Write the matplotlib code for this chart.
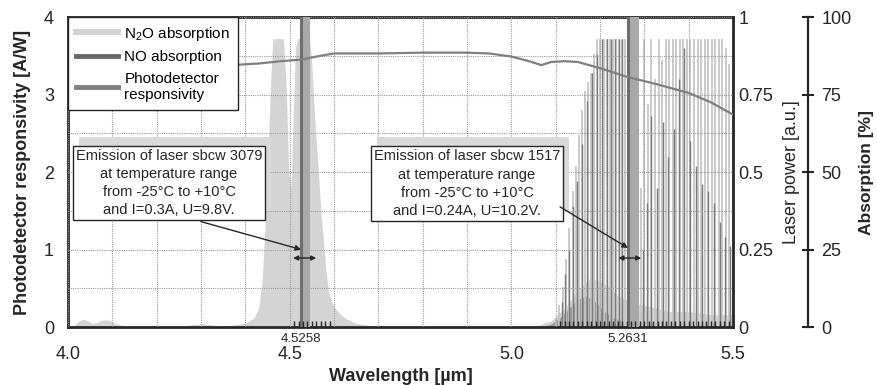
import numpy as np
import matplotlib
matplotlib.use('Agg')
import matplotlib.pyplot as plt
from matplotlib.lines import Line2D
from matplotlib.patches import Rectangle

plt.rcParams['font.family'] = ['Liberation Sans Narrow', 'Liberation Sans', 'DejaVu Sans']
plt.rcParams['mathtext.default'] = 'regular'
BOLD = ['Liberation Sans', 'DejaVu Sans']

# photodetector responsivity [A/W]
resp_wl = [4.00, 4.10, 4.20, 4.30, 4.37, 4.43, 4.48, 4.525, 4.57, 4.60, 4.70, 4.80, 4.90,
           4.95, 5.00, 5.04, 5.068, 5.09, 5.12, 5.15, 5.20, 5.26, 5.33, 5.40, 5.45, 5.50]
resp_val = [3.30, 3.33, 3.35, 3.37, 3.38, 3.40, 3.43, 3.45, 3.50, 3.53, 3.53, 3.54, 3.54,
            3.53, 3.49, 3.43, 3.38, 3.42, 3.43, 3.42, 3.34, 3.23, 3.13, 3.02, 2.90, 2.74]

# N2O absorption [%], 4.5 um band envelope
n2o_wl = [4.00, 4.015, 4.025, 4.035, 4.045, 4.055, 4.065, 4.075, 4.085, 4.095, 4.105, 4.115,
          4.125, 4.20, 4.26, 4.28, 4.30, 4.32, 4.34, 4.36, 4.40, 4.42, 4.43, 4.438, 4.445,
          4.452, 4.458, 4.462, 4.47, 4.48, 4.486, 4.492, 4.498, 4.503, 4.508, 4.513, 4.518,
          4.53, 4.545, 4.55, 4.555, 4.56, 4.565, 4.57, 4.576, 4.582, 4.588, 4.595, 4.603,
          4.615, 4.63, 4.65, 4.68, 4.72]
n2o_abs = [0, 0.5, 2.0, 2.5, 2.0, 1.2, 1.5, 2.2, 2.3, 2.0, 1.3, 0.8,
           0.3, 0.1, 0.3, 0.8, 1.0, 0.8, 0.3, 0.4, 1.2, 3.0, 6, 15, 34,
           60, 82, 93, 93, 93, 93, 78, 50, 45, 68, 90, 93,
           93, 93, 85, 71, 60, 50, 38, 28, 18, 11, 8, 6,
           4, 2.5, 1.2, 0.5, 0]

# N2O absorption, 5.3 um region: continuum and lines
n2o_base_wl = [5.03, 5.06, 5.09, 5.12, 5.15, 5.18, 5.21, 5.24, 5.27, 5.30, 5.33, 5.36, 5.40, 5.45, 5.50]
n2o_base_abs = [0, 0.5, 2, 6, 12, 16, 14, 10, 8, 7, 6, 5, 5, 4, 4]
n2o_line_wl = [5.100, 5.108, 5.116, 5.124, 5.131, 5.138, 5.145, 5.152, 5.159, 5.166, 5.173,
               5.180, 5.187, 5.194, 5.201, 5.208, 5.215, 5.222, 5.229, 5.236, 5.243, 5.250,
               5.257, 5.266, 5.275, 5.292, 5.300, 5.308, 5.316, 5.324, 5.332, 5.340, 5.348,
               5.356, 5.364, 5.372, 5.380, 5.388, 5.396, 5.404, 5.412, 5.420, 5.428, 5.436,
               5.444, 5.452, 5.460, 5.468, 5.476, 5.484, 5.492, 5.499]
n2o_line_abs = [3, 7, 13, 22, 32, 44, 52, 62, 70, 76, 79,
                82, 88, 93, 93, 93, 93, 93, 93, 93, 93, 93,
                93, 60, 30, 45, 93, 72, 93, 80, 93, 86, 93,
                93, 93, 93, 93, 93, 93, 93, 93, 93, 93, 93,
                93, 93, 93, 93, 93, 90, 85, 80]

# NO absorption [%]
no_base_wl = [5.07, 5.09, 5.11, 5.13, 5.15, 5.17, 5.19, 5.21, 5.23, 5.25]
no_base_abs = [0, 1, 3, 6, 9, 10, 8, 5, 3, 2]
no_line_wl = [5.114, 5.122, 5.131, 5.139, 5.149, 5.160, 5.171, 5.183, 5.194, 5.205, 5.215,
              5.224, 5.233, 5.242, 5.250, 5.296, 5.305, 5.315, 5.329, 5.342, 5.353, 5.366,
              5.378, 5.390, 5.404, 5.417, 5.430, 5.443, 5.457, 5.470, 5.482, 5.494]
no_line_abs = [8, 17, 25, 39, 47, 59, 73, 82, 88, 93, 93,
               93, 93, 93, 93, 25, 40, 68, 45, 66, 55, 64,
               80, 90, 60, 52, 46, 44, 40, 34, 29, 26]

# laser emission lines [um] and tuning range
laser_wl = [4.5258, 5.2631]
laser_width = [0.019, 0.024]
laser_labels = ['4.5258', '5.2631']
laser_text = ['Emission of laser sbcw 3079\nat temperature range\nfrom -25\u00b0C to +10\u00b0C\nand I=0.3A, U=9.8V.',
              'Emission of laser sbcw 1517\nat temperature range\nfrom -25\u00b0C to +10\u00b0C\nand I=0.24A, U=10.2V.']

DARK = '#262626'

fig = plt.figure(figsize=(8.77, 3.85), dpi=100)
ax = fig.add_axes([0.0775, 0.1506, 0.7583, 0.8052])
ax_abs = ax.twinx()
ax_pw = ax.twinx()
ax_abs.set_zorder(0)
ax_pw.set_zorder(1)
ax.set_zorder(2)
ax.patch.set_visible(False)
ax_pw.patch.set_visible(False)
ax_abs.patch.set_visible(True)
ax_abs.patch.set_facecolor('white')

# spectra
ax_abs.fill_between(n2o_wl, n2o_abs, color='#d4d4d4', lw=0)
ax_abs.fill_between(n2o_base_wl, n2o_base_abs, color='#d4d4d4', lw=0)
ax_abs.vlines(n2o_line_wl, 0, n2o_line_abs, color='#c6c6c6', lw=1.3)
ax_abs.fill_between(no_base_wl, no_base_abs, color='#9c9c9c', lw=0)
ax_abs.vlines(no_line_wl, 0, no_line_abs, color='#7a7a7a', lw=1.0)
ax_abs.set_ylim(0, 100)
ax_abs.set_yticks([0, 25, 50, 75, 100])
for s in ['left', 'top', 'bottom']:
    ax_abs.spines[s].set_visible(False)
ax_abs.spines['right'].set_position(('axes', 1.113))
ax_abs.spines['right'].set_linewidth(1.6)
ax_abs.spines['right'].set_color(DARK)
ax_abs.tick_params(axis='y', direction='inout', length=9, width=1.5, color=DARK,
                   pad=5, labelsize=13, labelcolor=DARK)
ax_abs.set_ylabel('Absorption [%]', fontsize=12.5, fontweight='bold', family=BOLD,
                  color=DARK, labelpad=5)

# laser power axis
ax_pw.set_ylim(0, 1)
ax_pw.set_yticks([0, 0.25, 0.5, 0.75, 1])
ax_pw.set_yticklabels(['0', '0.25', '0.5', '0.75', '1'])
ax_pw.tick_params(axis='y', length=0, pad=4, labelsize=13, labelcolor=DARK)
for s in ax_pw.spines.values():
    s.set_visible(False)
ax_pw.set_ylabel('Laser power [a.u.]', fontsize=13, family=BOLD, color=DARK, labelpad=7)

# laser emission bars
for wl, w in zip(laser_wl, laser_width):
    ax.axvspan(wl, wl + w, color='#a9a9a9', lw=0, zorder=3)
    ax.axvline(wl, color='#6e6e6e', lw=2.2, zorder=3)

# responsivity
ax.plot(resp_wl, resp_val, color='#7f7f7f', lw=1.6, zorder=4)

ax.set_xlim(4.0, 5.5)
ax.set_ylim(0, 4)
ax.set_xticks([4.0, 4.5, 5.0, 5.5])
ax.set_xticklabels(['4.0', '4.5', '5.0', '5.5'])
ax.set_xticks(np.round(np.arange(4.1, 5.45, 0.1), 2), minor=True)
ax.set_yticks([0, 1, 2, 3, 4])
ax.set_yticks([0.5, 1.5, 2.5, 3.5], minor=True)
ax.tick_params(axis='x', which='both', length=0, pad=13.5, labelsize=13, labelcolor=DARK)
ax.tick_params(axis='y', which='both', length=0, pad=10, labelsize=13, labelcolor=DARK)
ax.set_axisbelow(False)
ax.grid(which='both', color='#9a9a9a', ls=(0, (1, 1)), lw=0.8)
for s in ax.spines.values():
    s.set_linewidth(2)
    s.set_color(DARK)
ax.set_xlabel('Wavelength [\u00b5m]', fontsize=13, fontweight='bold', family=BOLD,
              color=DARK, labelpad=4)
ax.set_ylabel('Photodetector responsivity [A/W]', fontsize=13, fontweight='bold',
              family=BOLD, color=DARK, labelpad=9)

# small ticks at laser positions
small_ticks = [4.51, 4.52, 4.53, 4.54, 4.55, 4.56, 4.57, 4.58, 4.59,
               5.11, 5.12, 5.13, 5.14, 5.15, 5.16, 5.17, 5.18, 5.19, 5.20, 5.21, 5.22,
               5.23, 5.24, 5.25, 5.26, 5.27, 5.28, 5.29, 5.30, 5.31, 5.32, 5.33, 5.34,
               5.35, 5.36, 5.37, 5.38, 5.39, 5.40, 5.41, 5.42, 5.43, 5.44, 5.45, 5.46,
               5.47, 5.48, 5.49]
ax.plot(small_ticks, [0] * len(small_ticks), transform=ax.get_xaxis_transform(),
        ls='none', marker=2, ms=4, mew=1, color=DARK, clip_on=False, zorder=5)
for wl, lab in zip(laser_wl, laser_labels):
    ax.text(wl, -0.018, lab, transform=ax.get_xaxis_transform(), ha='center', va='top',
            fontsize=9.5, color=DARK)

# annotation boxes
box_xy = [(4.228, 1.86), (4.90, 1.85)]
arrow_from = [(4.30, 1.36), (5.11, 1.55)]
arrow_to = [(4.5258, 1.0), (5.2631, 1.02)]
span = [(4.508, 4.560), (5.2415, 5.293)]
boxes = []
for txt, (bx, by), a0, a1, (s0, s1) in zip(laser_text, box_xy, arrow_from, arrow_to, span):
    t = ax.text(bx, by, txt, ha='center', va='center', fontsize=10.5, linespacing=1.38,
                color=DARK, bbox=dict(boxstyle='square,pad=0.2', fc='white', ec=DARK, lw=1),
                zorder=6)
    boxes.append(t)
    ax.annotate('', xy=a1, xytext=a0,
                arrowprops=dict(arrowstyle='-|>', color=DARK, lw=1, mutation_scale=8,
                                shrinkA=0, shrinkB=0), zorder=6)
    ax.annotate('', xy=(s1, 0.89), xytext=(s0, 0.89),
                arrowprops=dict(arrowstyle='<|-|>', color=DARK, lw=1, mutation_scale=7,
                                shrinkA=0, shrinkB=0), zorder=6)

# legend
handles = [Line2D([], [], color='#d4d4d4', lw=4.5),
           Line2D([], [], color='#6a6a6a', lw=3.5),
           Line2D([], [], color='#808080', lw=3.5)]
labels = ['N$_2$O absorption', 'NO absorption', 'Photodetector\nresponsivity']
leg = ax.legend(handles, labels, loc='upper left', bbox_to_anchor=(0, 1), borderaxespad=0,
                fancybox=False, framealpha=1, edgecolor=DARK, fontsize=11,
                handlelength=2.8, handletextpad=0.4, labelspacing=0.5, borderpad=0.5)
leg.get_frame().set_linewidth(1)
leg.set_zorder(7)

# grey shadow behind the text boxes
fig.canvas.draw()
renderer = fig.canvas.get_renderer()
for t in boxes:
    bb = t.get_bbox_patch().get_window_extent(renderer)
    ax.add_artist(Rectangle((bb.x0 + 6, bb.y0 + 9), bb.width, bb.height, transform=None,
                            fc='#d9d9d9', ec='none', zorder=5))

fig.savefig('out.png', dpi=100)
